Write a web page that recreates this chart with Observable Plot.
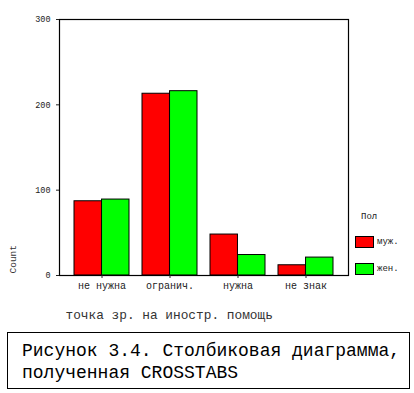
<!DOCTYPE html>
<html>
<head>
<meta charset="utf-8">
<script src="https://cdn.jsdelivr.net/npm/d3@7"></script>
<script src="https://cdn.jsdelivr.net/npm/@observablehq/plot@0.6"></script>
<style>
  body { margin: 0; background: #fff; width: 414px; height: 393px; overflow: hidden; position: relative; font-family: "Liberation Mono", monospace; }
  #chart { position: absolute; left: 0; top: 0; }
  #legend { position: absolute; left: 355px; top: 212px; font-size: 9px; color: #222; }
  #legend .title { margin-left: 6px; margin-bottom: 14px; }
  #legend .item { display: flex; align-items: center; height: 11px; margin-bottom: 16px; }
  #legend .sw { width: 17px; height: 10px; border: 1px solid #000; margin-right: 3px; }
  #caption { position: absolute; left: 7px; top: 332px; width: 403px; height: 57px; border: 1px solid #000;
             font-family: "Liberation Mono", monospace; font-size: 18px; line-height: 22px; padding: 7px 0 0 14px; box-sizing: border-box; color: #000; }
</style>
</head>
<body>
<div id="chart"></div>
<div id="legend"></div>
<div id="caption">Рисунок 3.4. Столбиковая диаграмма,<br>полученная CROSSTABS</div>
<script>
const categories = ["не нужна", "огранич.", "нужна", "не знак"];
const sexes = ["муж.", "жен."];
const male = [87, 213, 48, 12];
const female = [89, 216, 24, 21];
const yTicks = [0, 100, 200, 300];
const colors = ["#ff0000", "#00ff00"];
const xTitle = "точка зр. на иностр. помощь";
const yTitle = "Count";
const legendTitle = "Пол";

const W = 414, H = 325, mL = 59, mR = 66, mT = 19, mB = 50;
const xOpts = {type: "band", domain: categories, paddingInner: 0.19, paddingOuter: 0.22};
const xs = Plot.scale({x: {...xOpts, range: [mL, W - mR]}});
const half = xs.bandwidth / 2;

const maleData = categories.map((c, i) => ({cat: c, sex: sexes[0], count: male[i]}));
const femaleData = categories.map((c, i) => ({cat: c, sex: sexes[1], count: female[i]}));

const chart = Plot.plot({
  width: W,
  height: H,
  marginLeft: mL,
  marginRight: mR,
  marginTop: mT,
  marginBottom: mB,
  style: {fontFamily: "Liberation Mono, monospace", background: "#fff", color: "#222"},
  x: {...xOpts, label: null},
  y: {domain: [0, 300], ticks: yTicks, label: null},
  color: {domain: sexes, range: colors},
  marks: [
    Plot.barY(maleData, {x: "cat", y: "count", fill: "sex", stroke: "#000", strokeWidth: 1, insetLeft: 0, insetRight: half}),
    Plot.barY(femaleData, {x: "cat", y: "count", fill: "sex", stroke: "#000", strokeWidth: 1, insetLeft: half, insetRight: 0}),
    Plot.frame({stroke: "#000", strokeWidth: 1.2}),
    Plot.axisY({ticks: yTicks, tickSize: 3, tickPadding: 6, fontSize: 8.5, label: null}),
    Plot.axisX({tickSize: 3, tickPadding: 3, fontSize: 10, label: null}),
    Plot.text([xTitle], {frameAnchor: "bottom-left", dx: 6, dy: 43, fontSize: 12.8, textAnchor: "start", fill: "#333"}),
    Plot.text([yTitle], {frameAnchor: "bottom-left", dx: -44, dy: -2, rotate: -90, fontSize: 9.5, textAnchor: "start", fill: "#333"})
  ]
});
document.getElementById("chart").appendChild(chart);

const legend = document.getElementById("legend");
const t = document.createElement("div");
t.className = "title";
t.textContent = legendTitle;
legend.appendChild(t);
sexes.forEach((s, i) => {
  const it = document.createElement("div");
  it.className = "item";
  const sw = document.createElement("div");
  sw.className = "sw";
  sw.style.background = colors[i];
  const lb = document.createElement("span");
  lb.textContent = s;
  it.appendChild(sw);
  it.appendChild(lb);
  legend.appendChild(it);
});
</script>
</body>
</html>
